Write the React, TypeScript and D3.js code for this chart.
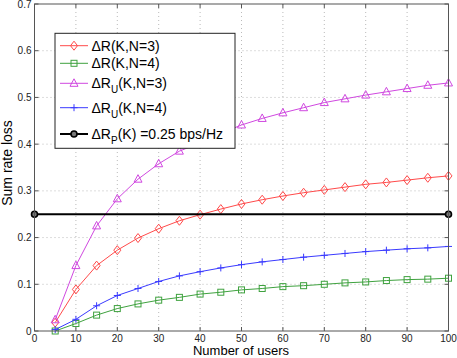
import React from 'react';
import { scaleLinear, line } from 'd3';

// number of users K
const users = [5, 10, 15, 20, 25, 30, 35, 40, 45, 50, 55, 60, 65, 70, 75, 80, 85, 90, 95, 100];

const lossN3 = [0.018, 0.089, 0.140, 0.173, 0.199, 0.219, 0.236, 0.249, 0.261, 0.272, 0.281, 0.289, 0.296, 0.302, 0.308, 0.314, 0.318, 0.323, 0.328, 0.332];
const lossN4 = [0.0, 0.016, 0.034, 0.048, 0.058, 0.066, 0.072, 0.079, 0.083, 0.088, 0.091, 0.095, 0.097, 0.100, 0.103, 0.105, 0.108, 0.110, 0.111, 0.113];
const lossUN3 = [0.024, 0.140, 0.225, 0.283, 0.325, 0.358, 0.385, 0.403, 0.423, 0.441, 0.455, 0.467, 0.478, 0.489, 0.497, 0.505, 0.512, 0.519, 0.526, 0.531];
const lossUN4 = [0.003, 0.025, 0.054, 0.076, 0.091, 0.106, 0.118, 0.127, 0.135, 0.142, 0.148, 0.153, 0.158, 0.162, 0.166, 0.170, 0.173, 0.176, 0.178, 0.181];
const bound = 0.25;
const boundX = [0, 100];

const xTicks = [0, 10, 20, 30, 40, 50, 60, 70, 80, 90, 100];
const yTicks = [0, 0.1, 0.2, 0.3, 0.4, 0.5, 0.6, 0.7];

const W = 457, H = 358;
const L = 34.5, R = 448.5, T = 4, B = 331;
const font = 'Liberation Sans, Arial, Helvetica, sans-serif';

type Marker = 'diamond' | 'square' | 'triangle' | 'plus' | 'circle';

function Mark({ kind, x, y, color }: { kind: Marker; x: number; y: number; color: string }) {
  if (kind === 'diamond') return <path d={`M${x},${y - 4.5}L${x + 3.5},${y}L${x},${y + 4.5}L${x - 3.5},${y}Z`} fill="none" stroke={color} />;
  if (kind === 'square') return <rect x={x - 3} y={y - 3} width={6} height={6} fill="none" stroke={color} />;
  if (kind === 'triangle') return <path d={`M${x},${y - 4.5}L${x + 4},${y + 3}L${x - 4},${y + 3}Z`} fill="none" stroke={color} />;
  if (kind === 'plus') return <path d={`M${x - 3.5},${y}H${x + 3.5}M${x},${y - 3.5}V${y + 3.5}`} stroke={color} />;
  return <circle cx={x} cy={y} r={3} fill="#777" stroke={color} strokeWidth={1.6} />;
}

const series = [
  { vals: lossN3, color: '#ff4a4a', kind: 'diamond' as Marker },
  { vals: lossN4, color: '#3fa23f', kind: 'square' as Marker },
  { vals: lossUN3, color: '#d048e0', kind: 'triangle' as Marker },
  { vals: lossUN4, color: '#3a3aff', kind: 'plus' as Marker },
];

export default function App() {
  const x = scaleLinear().domain([0, 100]).range([L, R]);
  const y = scaleLinear().domain([0, 0.7]).range([B, T]);
  const gen = line<[number, number]>().x(d => x(d[0])).y(d => y(d[1]));

  const legendRows = [
    { y: 45.7, color: '#ff4a4a', kind: 'diamond' as Marker, w: 1, label: <tspan>ΔR(K,N=3)</tspan> },
    { y: 63.3, color: '#3fa23f', kind: 'square' as Marker, w: 1, label: <tspan>ΔR(K,N=4)</tspan> },
    { y: 83.3, color: '#d048e0', kind: 'triangle' as Marker, w: 1, label: <><tspan>ΔR</tspan><tspan dy={5} fontSize={10}>U</tspan><tspan dy={-5}>(K,N=3)</tspan></> },
    { y: 107.7, color: '#3a3aff', kind: 'plus' as Marker, w: 1, label: <><tspan>ΔR</tspan><tspan dy={5} fontSize={10}>U</tspan><tspan dy={-5}>(K,N=4)</tspan></> },
    { y: 134, color: '#000', kind: 'circle' as Marker, w: 2, label: <><tspan>ΔR</tspan><tspan dy={5} fontSize={10}>P</tspan><tspan dy={-5}>(K) =0.25 bps/Hz</tspan></> },
  ];

  return (
    <svg width={W} height={H} style={{ display: 'block', position: 'absolute', left: 0, top: 0 }} fontFamily={font}>
      <rect x={0} y={0} width={W} height={H} fill="#fff" />
      {/* grid */}
      {xTicks.slice(1, -1).map(t => (
        <line key={'gx' + t} x1={x(t)} x2={x(t)} y1={T} y2={B} stroke="#bbb" strokeDasharray="1,3" />
      ))}
      {yTicks.slice(1, -1).map(t => (
        <line key={'gy' + t} x1={L} x2={R} y1={y(t)} y2={y(t)} stroke="#bbb" strokeDasharray="1,3" />
      ))}
      {/* ticks */}
      {xTicks.map(t => (
        <g key={'tx' + t}>
          <line x1={x(t)} x2={x(t)} y1={B} y2={B - 4} stroke="#555" />
          <line x1={x(t)} x2={x(t)} y1={T} y2={T + 4} stroke="#555" />
          <text x={x(t)} y={B + 10.5} fontSize={10} textAnchor="middle" fill="#222">{t}</text>
        </g>
      ))}
      {yTicks.map(t => (
        <g key={'ty' + t}>
          <line x1={L} x2={L + 4} y1={y(t)} y2={y(t)} stroke="#555" />
          <line x1={R} x2={R - 4} y1={y(t)} y2={y(t)} stroke="#555" />
          <text x={L - 3} y={y(t) + 3.5} fontSize={10} textAnchor="end" fill="#222">{t}</text>
        </g>
      ))}
      {/* series */}
      {series.map((s, i) => {
        const pts = users.map((u, j) => [u, s.vals[j]] as [number, number]);
        return (
          <g key={'s' + i}>
            <path d={gen(pts) || ''} fill="none" stroke={s.color} strokeWidth={1} />
            {pts.map((p, j) => <Mark key={j} kind={s.kind} x={x(p[0])} y={y(p[1])} color={s.color} />)}
          </g>
        );
      })}
      <path d={gen(boundX.map(k => [k, bound] as [number, number])) || ''} stroke="#000" strokeWidth={2} fill="none" />
      {boundX.map(k => <Mark key={'b' + k} kind="circle" x={x(k)} y={y(bound)} color="#000" />)}
      {/* axes box */}
      <rect x={L} y={T} width={R - L} height={B - T} fill="none" stroke="#555" strokeWidth={1} />
      {/* legend */}
      <rect x={55} y={33.3} width={180} height={115} fill="#fff" stroke="#222" strokeWidth={1} />
      {legendRows.map((r, i) => (
        <g key={'l' + i}>
          <line x1={60} x2={88} y1={r.y} y2={r.y} stroke={r.color} strokeWidth={r.w} />
          <Mark kind={r.kind} x={74} y={r.y} color={r.color} />
          <text x={91.5} y={r.y + 5} fontSize={14} fill="#000">{r.label}</text>
        </g>
      ))}
      <text x={241} y={354.5} fontSize={13} textAnchor="middle" fill="#000">Number of users</text>
      <text transform={`translate(12,163) rotate(-90)`} fontSize={14} textAnchor="middle" fill="#000">Sum rate loss</text>
    </svg>
  );
}
